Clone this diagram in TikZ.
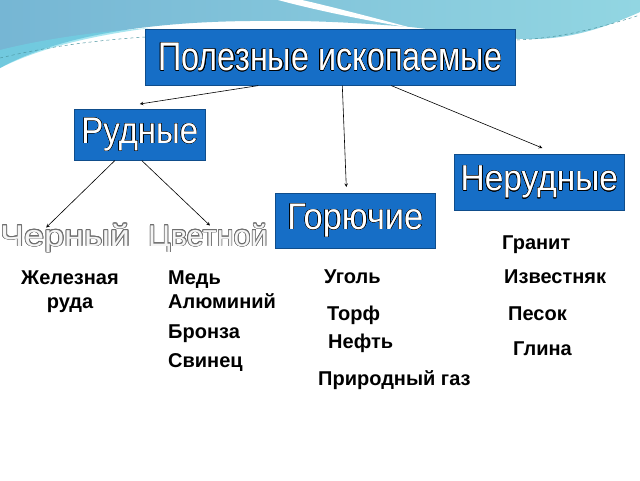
\documentclass[tikz,border=0pt]{standalone}
\usepackage{fontspec}
\setmainfont{Liberation Sans}
\newfontfamily\boxfont{Liberation Sans}
\usepackage{graphicx}
\usepackage{contour}
\contourlength{0.45pt}
\usepackage{tikz}
\usetikzlibrary{arrows}
\usetikzlibrary{positioning}
\definecolor{boxblue}{RGB}{22,110,198}
\definecolor{skyleft}{RGB}{118,182,212}
\definecolor{skyright}{RGB}{146,214,226}
\definecolor{skyband}{RGB}{110,214,230}
\definecolor{artedge}{RGB}{110,110,110}
\newcommand{\boxtitle}[3]{\scalebox{#2}[1]{\boxfont\fontsize{#1}{#1}\selectfont\contour{black}{#3}}}
\newcommand{\wordart}[2]{\scalebox{#1}[1]{\fontsize{30}{30}\selectfont\contourlength{0.7pt}\contour{artedge}{#2}}}
\tikzset{
    box/.style={draw=boxblue!70!black, fill=boxblue, text=white, anchor=north west,
        inner sep=0pt, line width=0.6pt},
    item/.style={anchor=base west, inner sep=0pt, font=\bfseries\fontsize{20}{24}\selectfont},
    wordtext/.style={anchor=base west, inner sep=0pt, text=white!92!gray},
    branch/.style={->, >=stealth, line width=0.6pt, draw=black},
}
\begin{document}
\begin{tikzpicture}[x=1pt, y=-1pt]
		\fill[white] (0,0) rectangle (640,480);
		\useasboundingbox (0,0) rectangle (640,480);
		% background wave
		\shade[left color=skyleft, right color=skyright] (0,0) -- (640,0) -- (640,12)
			.. controls (600,30) and (565,40) .. (525,39)
			.. controls (480,38) and (440,30) .. (410,27)
			.. controls (350,22) and (300,20) .. (250,21)
			.. controls (150,22) and (60,35) .. (0,68) -- cycle;
		\fill[skyband, opacity=0.6] (0,68) .. controls (40,48) and (90,36) .. (150,28)
			.. controls (90,32) and (40,40) .. (0,50) -- cycle;
		\fill[white] (278,0) .. controls (300,6) and (350,18) .. (412,28)
			.. controls (360,14) and (320,4) .. (302,0) -- cycle;
		\draw[skyband!70!black, dashed, line width=0.5pt] (0,58) .. controls (50,46) and (100,40) .. (145,37);
		\draw[skyband!70!black, dashed, line width=0.5pt] (517,40) .. controls (560,38) and (600,28) .. (640,15);
		%
		\node[box, minimum width=370pt, minimum height=56pt] (title) at (145,29) {\boxtitle{40}{0.81}{Полезные ископаемые}};
		\node[box, minimum width=131pt, minimum height=51pt] (rudnye) at (74,109) {\boxtitle{37}{0.89}{Рудные}};
		\node[box, minimum width=160pt, minimum height=55pt] (goryuch) at (275,193) {\boxtitle{37}{0.93}{Горючие}};
		\node[box, minimum width=170pt, minimum height=56pt] (nerudn) at (454,154) {\boxtitle{36}{0.93}{Нерудные}};
		%
		\node[wordtext] (cherny) at (0,246) {\wordart{1.2}{Черный}};
		\node[wordtext] (tsvetn) at (148,246) {\wordart{1.02}{Цветной}};
		%
		\draw[branch] ([xshift=-72pt]title.south) -- ([yshift=5pt]rudnye.north);
		\draw[branch] ([xshift=12pt]title.south) -- ([xshift=-9pt,yshift=6pt]goryuch.north);
		\draw[branch] ([xshift=61pt]title.south) -- ([xshift=3pt,yshift=6pt]nerudn.north);
		\draw[branch] ([xshift=-25pt]rudnye.south) -- ([xshift=-19pt,yshift=-4pt]cherny.north);
		\draw[branch] ([xshift=2pt]rudnye.south) -- ([xshift=2pt,yshift=-2pt]tsvetn.north);
		%
		\node[item, anchor=base, align=center] (zhelez) at (70,308) {Железная\\руда};
		\node[item] (med) at (168,284) {Медь};
		\node[item] (alum) at (168,308) {Алюминий};
		\node[item] (bronza) at (168,338) {Бронза};
		\node[item] (svinec) at (168,367) {Свинец};
		%
		\node[item] (ugol) at (324,283) {Уголь};
		\node[item] (torf) at (327,320) {Торф};
		\node[item] (neft) at (328,348) {Нефть};
		\node[item] (gaz) at (318,385) {Природный газ};
		%
		\node[item] (granit) at (502,249) {Гранит};
		\node[item] (izvest) at (504,283) {Известняк};
		\node[item] (pesok) at (508,320) {Песок};
		\node[item] (glina) at (513,355) {Глина};
\end{tikzpicture}
\end{document}
